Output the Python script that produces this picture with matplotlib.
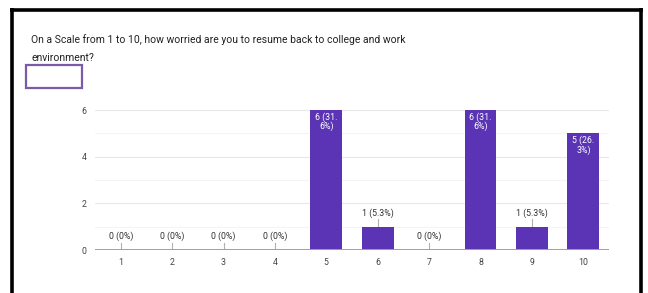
import matplotlib.pyplot as plt
from matplotlib.lines import Line2D
from matplotlib.patches import Rectangle

plt.rcParams['font.family'] = ['Roboto', 'DejaVu Sans']

title = "On a Scale from 1 to 10, how worried are you to resume back to college and work\nenvironment?"
scale = [1, 2, 3, 4, 5, 6, 7, 8, 9, 10]
counts = [0, 0, 0, 0, 6, 1, 0, 6, 1, 5]
labels = ["0 (0%)", "0 (0%)", "0 (0%)", "0 (0%)", "6 (31.\n6%)", "1 (5.3%)",
          "0 (0%)", "6 (31.\n6%)", "1 (5.3%)", "5 (26.\n3%)"]

W, H = 648, 293
fig = plt.figure(figsize=(W / 100, H / 100), dpi=100)

# outer black frame (open at the bottom)
def fx(px): return px / W
def fy(py): return 1 - py / H
for xs, ys in [([10, 643], [9.5, 9.5]), ([12, 12], [8, 300]), ([641, 641], [8, 300])]:
    fig.add_artist(Line2D([fx(x) for x in xs], [fy(y) for y in ys], color='black', lw=2.6,
                          transform=fig.transFigure, solid_capstyle='butt'))

fig.text(fx(31), fy(34), title, ha='left', va='top', fontsize=7.5, color='#202124',
         linespacing=1.95)

# purple outlined box under the question
fig.add_artist(Rectangle((fx(26), fy(88)), fx(82) - fx(26), fy(65) - fy(88), fill=False,
                         edgecolor='#7a5ba8', lw=1.6, transform=fig.transFigure))

ax = fig.add_axes([fx(95), fy(250), fx(609) - fx(95), fy(110) - fy(250)])
ax.set_xlim(0.5, 10.5)
ax.set_ylim(0, 6)
for y in [1, 3, 5]:
    ax.axhline(y, color='#f4f4f4', lw=0.8, zorder=0)
for y in [2, 4, 6]:
    ax.axhline(y, color='#e8e8e8', lw=0.8, zorder=0)

ax.bar(scale, counts, width=0.62, color='#5b34b6', zorder=2)
ax.axhline(0, color='#a0a0a0', lw=1.4, zorder=3)

for x, c, lab in zip(scale, counts, labels):
    if c >= 5:
        ax.text(x, c - 0.1, lab, ha='center', va='top', fontsize=6.3, color='white',
                linespacing=1.0, zorder=4)
    else:
        ax.plot([x, x], [c, c + 0.32], color='#b0b0b0', lw=0.8, zorder=1)
        ax.text(x, c + 0.58, lab, ha='center', va='center', fontsize=6.3, color='#333333',
                zorder=4)

ax.set_xticks(scale)
ax.set_yticks([0, 2, 4, 6])
ax.tick_params(length=0, labelsize=6.3, colors='#444444', pad=6)
for s in ax.spines.values():
    s.set_visible(False)

fig.savefig('out.png', dpi=100)
